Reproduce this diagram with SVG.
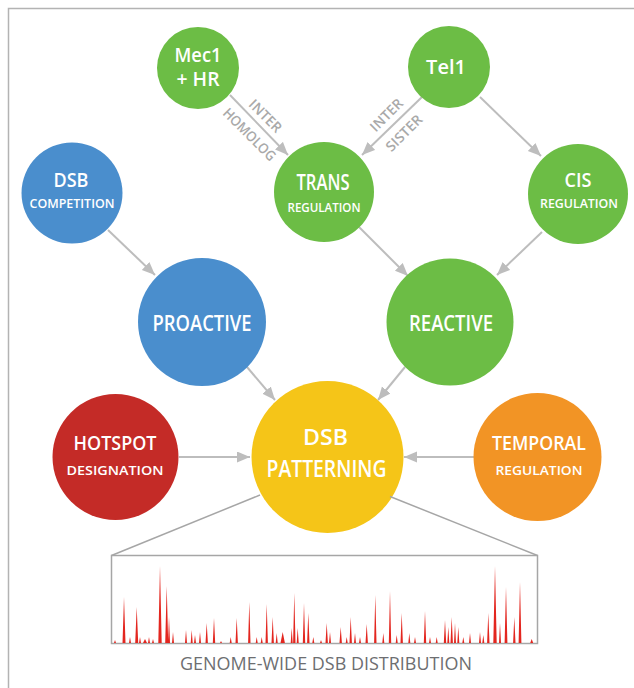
<svg xmlns="http://www.w3.org/2000/svg" width="634" height="688" viewBox="0 0 634 688">
<style>
.t{font-family:"Open Sans","Noto Sans","Liberation Sans",sans-serif;font-weight:600;fill:#fff;text-anchor:middle}
.el{font-family:"Open Sans","Noto Sans","Liberation Sans",sans-serif;font-weight:600;fill:#a9a9a9;font-size:14px;text-anchor:middle}
.cap{font-family:"Open Sans","Noto Sans","Liberation Sans",sans-serif;font-weight:400;fill:#6d6e71;font-size:17.5px;text-anchor:middle}
.g{fill:#6cbd45}.b{fill:#4a8ecd}.r{fill:#c42b27}.y{fill:#f5c518}.o{fill:#f29425}
.c{stroke:#bdbdbd;stroke-width:2;fill:none;marker-end:url(#ah)}
.z{stroke:#a6a6a6;stroke-width:1.5;fill:none}
</style>
<defs>
<marker id="ah" markerUnits="userSpaceOnUse" markerWidth="14" markerHeight="12" refX="13" refY="5.5" orient="auto">
<path d="M0,0 L13,5.5 L0,11 Z" fill="#bdbdbd"/>
</marker>
</defs>
<rect x="0" y="0" width="634" height="688" fill="#fff"/>
<path d="M8.5,688 V8.5 H634" fill="none" stroke="#b3b3b3" stroke-width="1.5"/>

<g id="connectors">
<line class="c" x1="230" y1="95" x2="288" y2="155"/>
<line class="c" x1="422" y1="97" x2="362" y2="155"/>
<line class="c" x1="480" y1="97" x2="541" y2="156"/>
<line class="c" x1="542" y1="232" x2="497" y2="275"/>
<line class="c" x1="359" y1="227" x2="408" y2="276"/>
<line class="c" x1="108" y1="230" x2="155" y2="275"/>
<line class="c" x1="247" y1="367" x2="275" y2="400"/>
<line class="c" x1="405" y1="367" x2="378" y2="400"/>
<line class="c" x1="179" y1="457" x2="250" y2="457"/>
<line class="c" x1="474" y1="457" x2="404" y2="457"/>
<text class="el" transform="translate(262,119.5) rotate(45)" textLength="40" lengthAdjust="spacingAndGlyphs">INTER</text>
<text class="el" transform="translate(246,138) rotate(45)" textLength="68" lengthAdjust="spacingAndGlyphs">HOMOLOG</text>
<text class="el" transform="translate(390,118.5) rotate(-45)" textLength="40" lengthAdjust="spacingAndGlyphs">INTER</text>
<text class="el" transform="translate(407.5,136.5) rotate(-45)" textLength="45" lengthAdjust="spacingAndGlyphs">SISTER</text>
</g>

<g id="mec1">
<circle class="g" cx="198" cy="68" r="41"/>
<text class="t" x="198" y="62" font-size="19" textLength="47" lengthAdjust="spacingAndGlyphs">Mec1</text>
<text class="t" x="198" y="86" font-size="19" textLength="43" lengthAdjust="spacingAndGlyphs">+ HR</text>
</g>
<g id="tel1">
<circle class="g" cx="449" cy="67" r="41"/>
<text class="t" x="446" y="74" font-size="20">Tel1</text>
</g>
<g id="dsb-competition">
<circle class="b" cx="72" cy="193" r="50.5"/>
<text class="t" x="71" y="187" font-size="19" textLength="35" lengthAdjust="spacingAndGlyphs">DSB</text>
<text class="t" x="72" y="208" font-size="13" textLength="85" lengthAdjust="spacingAndGlyphs">COMPETITION</text>
</g>
<g id="trans">
<circle class="g" cx="324" cy="192" r="50"/>
<text class="t" x="323" y="190" font-size="21" textLength="53" lengthAdjust="spacingAndGlyphs">TRANS</text>
<text class="t" x="324" y="212" font-size="13" textLength="73" lengthAdjust="spacingAndGlyphs">REGULATION</text>
</g>
<g id="cis">
<circle class="g" cx="578" cy="194" r="50"/>
<text class="t" x="578" y="187" font-size="19" textLength="27" lengthAdjust="spacingAndGlyphs">CIS</text>
<text class="t" x="579" y="207.5" font-size="13" textLength="78" lengthAdjust="spacingAndGlyphs">REGULATION</text>
</g>
<g id="proactive">
<circle class="b" cx="202" cy="322" r="64"/>
<text class="t" x="202" y="331" font-size="22" textLength="99" lengthAdjust="spacingAndGlyphs">PROACTIVE</text>
</g>
<g id="reactive">
<circle class="g" cx="450" cy="322" r="63.5"/>
<text class="t" x="451" y="331" font-size="22" textLength="84" lengthAdjust="spacingAndGlyphs">REACTIVE</text>
</g>
<g id="hotspot">
<circle class="r" cx="115.5" cy="457" r="63"/>
<text class="t" x="115" y="450" font-size="19" textLength="83" lengthAdjust="spacingAndGlyphs">HOTSPOT</text>
<text class="t" x="115" y="475" font-size="13" textLength="97" lengthAdjust="spacingAndGlyphs">DESIGNATION</text>
</g>
<g id="dsb-patterning">
<circle class="y" cx="327.5" cy="457" r="76"/>
<text class="t" x="325.5" y="445" font-size="21" textLength="45" lengthAdjust="spacingAndGlyphs">DSB</text>
<text class="t" x="326.5" y="477" font-size="23" textLength="120" lengthAdjust="spacingAndGlyphs">PATTERNING</text>
</g>
<g id="temporal">
<circle class="o" cx="537.5" cy="457" r="64"/>
<text class="t" x="539" y="450" font-size="19" textLength="94" lengthAdjust="spacingAndGlyphs">TEMPORAL</text>
<text class="t" x="539" y="475" font-size="13" textLength="87" lengthAdjust="spacingAndGlyphs">REGULATION</text>
</g>

<g id="distribution">
<line class="z" x1="260" y1="495" x2="111.5" y2="555.5"/>
<line class="z" x1="390" y1="496.5" x2="537.5" y2="555.5"/>
<rect class="z" x="111.5" y="555.5" width="426" height="88"/>
<path fill="#e3261f" d="M114,643 L115,640 L116,643 Z M122.5,643 L124,597 L125.5,643 Z M129,643 L130,637 L131,643 Z M135.2,643 L136.7,607 L138.2,643 Z M139,643 L140,637 L141,643 Z M143,643 L145,639 L147,643 Z M148,643 L149,637 L150,643 Z M152,643 L153,639 L154,643 Z M158.3,643 L160,566 L161.7,643 Z M165.2,643 L166.7,586 L168.2,643 Z M168,643 L169,617 L170,643 Z M172,643 L173,632 L174,643 Z M185,643 L186,630 L187,643 Z M190.7,643 L191.7,630 L192.7,643 Z M194,643 L195,635 L196,643 Z M199,643 L200,632 L201,643 Z M205.5,643 L206.7,623 L207.9,643 Z M212.8,643 L214,618 L215.2,643 Z M220,643 L221,641 L222,643 Z M229.7,643 L230.7,637 L231.7,643 Z M235.5,643 L236.7,618 L237.9,643 Z M248.1,643 L249.3,602 L250.5,643 Z M255.7,643 L256.7,637 L257.7,643 Z M260.7,643 L261.7,637 L262.7,643 Z M265.5,643 L266.7,604 L267.9,643 Z M271.5,643 L272.7,617 L273.9,643 Z M275.7,643 L276.7,633 L277.7,643 Z M280.5,643 L282.7,632 L284.9,643 Z M290.7,643 L291.7,628 L292.7,643 Z M293.1,643 L294.3,593 L295.5,643 Z M296.7,643 L297.7,628 L298.7,643 Z M302.8,643 L304,603 L305.2,643 Z M307.1,643 L308.3,613 L309.5,643 Z M312.3,643 L313.3,637 L314.3,643 Z M320,643 L321,640 L322,643 Z M325.5,643 L326.7,623 L327.9,643 Z M329,643 L330,632 L331,643 Z M339.5,643 L340.7,627 L341.9,643 Z M345.7,643 L346.7,637 L347.7,643 Z M349.5,643 L350.7,617 L351.9,643 Z M354,643 L355,633 L356,643 Z M359,643 L360,637 L361,643 Z M365.5,643 L366.7,624 L367.9,643 Z M374.1,643 L375.3,595 L376.5,643 Z M382.3,643 L383.3,633 L384.3,643 Z M388.8,643 L390,591 L391.2,643 Z M395.7,643 L396.7,635 L397.7,643 Z M400.5,643 L401.7,613 L402.9,643 Z M408.3,643 L409.3,633 L410.3,643 Z M414,643 L415,637 L416,643 Z M423.8,643 L425,611 L426.2,643 Z M429,643 L430,637 L431,643 Z M435.7,643 L436.7,637 L437.7,643 Z M443.8,643 L445,620 L446.2,643 Z M447.3,643 L448.3,627 L449.3,643 Z M450.5,643 L451.7,617 L452.9,643 Z M454,643 L455,623 L456,643 Z M457.3,643 L458.3,627 L459.3,643 Z M462.3,643 L463.3,637 L464.3,643 Z M469,643 L470,633 L471,643 Z M479,643 L480,632 L481,643 Z M482.3,643 L483.3,635 L484.3,643 Z M487.1,643 L488.3,613 L489.5,643 Z M493.3,643 L495,566 L496.7,643 Z M499,643 L500,623 L501,643 Z M504.6,643 L506,587 L507.4,643 Z M513.1,643 L514.3,617 L515.5,643 Z M518.6,643 L520,582 L521.4,643 Z M530.2,643 L531.7,639 L533.2,643 Z"/>
<text class="cap" x="326" y="670" textLength="292" lengthAdjust="spacingAndGlyphs">GENOME-WIDE DSB DISTRIBUTION</text>
</g>
</svg>
